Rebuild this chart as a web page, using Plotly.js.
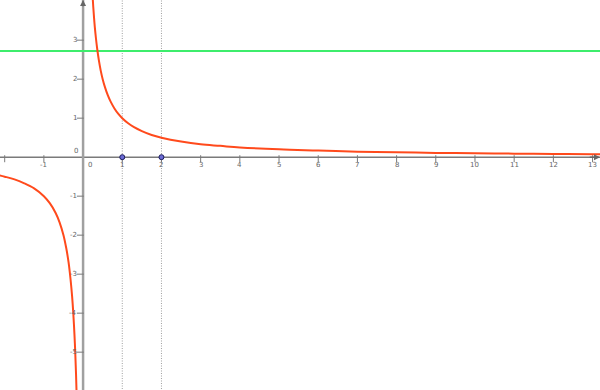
<!DOCTYPE html>
<html>
<head>
<meta charset="utf-8">
<script src="https://cdn.plot.ly/plotly-3.0.1.min.js"></script>
<style>html,body{margin:0;padding:0;background:#fff}#chart{width:600px;height:390px}</style>
</head>
<body>
<div id="chart"></div>
<script>
// Curve y = 1/x
const rightX = [0.24, 0.26, 0.28, 0.3, 0.33, 0.36, 0.4, 0.45, 0.5, 0.56, 0.63, 0.7, 0.8, 0.9, 1, 1.15, 1.3, 1.5, 1.75, 2, 2.5, 3, 3.5, 4, 5, 6, 7, 8, 9, 10, 11, 12, 13, 13.3];
const rightY = [4.17, 3.85, 3.57, 3.33, 3.03, 2.78, 2.5, 2.22, 2, 1.79, 1.59, 1.43, 1.25, 1.11, 1, 0.87, 0.77, 0.67, 0.57, 0.5, 0.4, 0.33, 0.29, 0.25, 0.2, 0.17, 0.14, 0.125, 0.11, 0.1, 0.09, 0.083, 0.077, 0.075];
const leftX = [-2.2, -2, -1.75, -1.5, -1.25, -1, -0.85, -0.7, -0.6, -0.5, -0.43, -0.37, -0.32, -0.28, -0.25, -0.22, -0.2, -0.18, -0.16];
const leftY = [-0.45, -0.5, -0.57, -0.67, -0.8, -1, -1.18, -1.43, -1.67, -2, -2.33, -2.7, -3.13, -3.57, -4, -4.55, -5, -5.56, -6.25];
const hLineY = 2.72;
const vLinesX = [1, 2];
const pointsX = [1, 2];
const pointsY = [0, 0];
const xTicks = [-2, -1, 1, 2, 3, 4, 5, 6, 7, 8, 9, 10, 11, 12, 13];
const xTickLabels = ["", "-1", "1", "2", "3", "4", "5", "6", "7", "8", "9", "10", "11", "12", "13"];
const yTicks = [3, 2, 1, -1, -2, -3, -4, -5];
const yTickLabels = ["3", "2", "1", "-1", "-2", "-3", "-4", "-5"];

const X0 = -2.12, X1 = 13.19, Y0 = -5.97, Y1 = 4.03;
const curveColor = '#ff4a1c';
const traces = [];
// vertical dotted lines
vLinesX.forEach(v => traces.push({x:[v,v], y:[Y0-1, Y1+1], mode:'lines', line:{color:'#a0a0a0', width:1, dash:'1px,1.5px'}}));
// axes
traces.push({x:[X0-1, X1], y:[0,0], mode:'lines', line:{color:'#7a7a7a', width:1.5}});
traces.push({x:[0,0], y:[Y0-1, Y1], mode:'lines', line:{color:'#a0a0a0', width:2.5}});
// ticks
traces.push({x:xTicks, y:xTicks.map(()=>-0.04), mode:'markers', marker:{symbol:'line-ns', size:5, line:{color:'#7a7a7a', width:1}}});
traces.push({x:yTicks.map(()=>-0.07), y:yTicks, mode:'markers', marker:{symbol:'line-ew', size:5, line:{color:'#7a7a7a', width:1}}});
// green line
traces.push({x:[X0-1, X1+1], y:[hLineY, hLineY], mode:'lines', line:{color:'#3ded6c', width:2}});
// curve
traces.push({x:leftX, y:leftY, mode:'lines', line:{color:curveColor, width:2, shape:'spline'}});
traces.push({x:rightX, y:rightY, mode:'lines', line:{color:curveColor, width:2, shape:'spline'}});
// points
traces.push({x:pointsX, y:pointsY, mode:'markers', marker:{symbol:'circle', size:5, color:'#6b6bd6', line:{color:'#1c1c5c', width:1}}});

const annotations = [];
const tf = {family:'DejaVu Sans, sans-serif', size:7, color:'#666'};
xTicks.forEach((v,i) => { if (xTickLabels[i]) annotations.push({x:v, y:0, text:xTickLabels[i], showarrow:false, xanchor:'center', yanchor:'top', yshift:-2, font:tf}); });
yTicks.forEach((v,i) => annotations.push({x:0, y:v, text:yTickLabels[i], showarrow:false, xanchor:'right', yanchor:'middle', xshift:-4, font:tf}));
annotations.push({x:0, y:0, text:'0', showarrow:false, xanchor:'right', yanchor:'bottom', xshift:-3, yshift:0, font:tf});
annotations.push({x:0, y:0, text:'0', showarrow:false, xanchor:'left', yanchor:'top', xshift:3, yshift:-2, font:tf});
// arrow heads on axes
annotations.push({x:0, y:Y1, ax:0, ay:Y1-0.2, axref:'x', ayref:'y', xref:'x', yref:'y', showarrow:true, arrowhead:2, arrowsize:0.8, arrowwidth:1.5, arrowcolor:'#666', text:''});
annotations.push({x:X1, y:0, ax:X1-0.3, ay:0, axref:'x', ayref:'y', xref:'x', yref:'y', showarrow:true, arrowhead:2, arrowsize:0.8, arrowwidth:1.5, arrowcolor:'#666', text:''});

Plotly.newPlot('chart', traces, {
  width:600, height:390,
  margin:{l:0, r:0, t:0, b:0},
  paper_bgcolor:'#fff', plot_bgcolor:'#fff',
  showlegend:false, hovermode:false,
  xaxis:{range:[X0, X1], visible:false, fixedrange:true},
  yaxis:{range:[Y0, Y1], visible:false, fixedrange:true},
  annotations:annotations
}, {staticPlot:true});
</script>
</body>
</html>
